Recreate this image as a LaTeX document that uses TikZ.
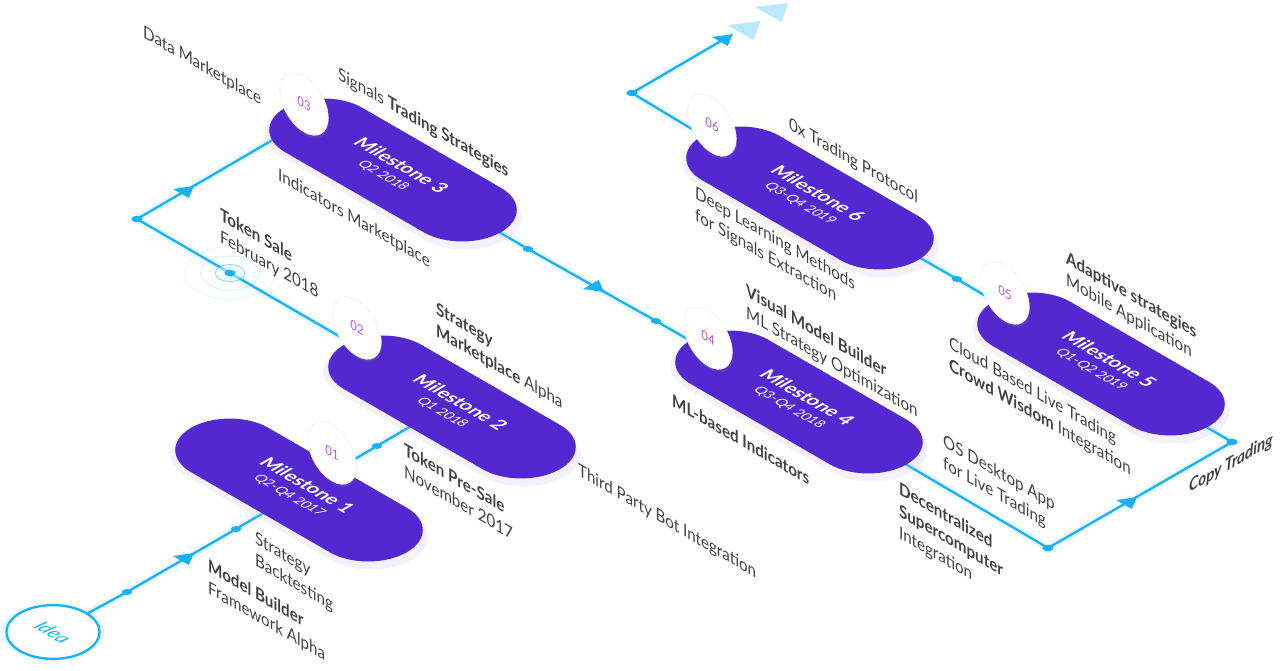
\documentclass[tikz,border=0pt]{standalone}
\usepackage{fontspec}
\setmainfont{Lato}
\usetikzlibrary{shapes.misc,shadows,backgrounds}

\definecolor{flowc}{RGB}{22,178,244}
\definecolor{pillc}{RGB}{84,40,208}
\definecolor{pillshade}{RGB}{190,178,238}
\definecolor{textc}{RGB}{66,66,70}
\definecolor{numc}{RGB}{186,82,214}
\definecolor{fadec}{RGB}{186,232,252}

\tikzset{
  floor/.style={x={(0.866pt,-0.5pt)},y={(0.866pt,0.5pt)}},
  onfloor/.style={cm={0.866,-0.5,0.866,0.5,(0,0)}},
  onwall/.style={cm={0.866,-0.5,0,1,(0,0)}},
  pill/.style={onfloor, rounded rectangle, fill=pillc, text=white, minimum width=249pt, minimum height=89pt,
    align=center, inner sep=0pt, font=\fontsize{13.5}{18}\selectfont,
    general shadow={fill=pillshade, opacity=0.18, shadow scale=1.04, shadow yshift=-5pt}},
  badge/.style={onwall, circle, fill=white, draw=black!7, line width=0.6pt, minimum size=56pt, inner sep=0pt, text=numc,
    font=\fontsize{13}{13}\selectfont, drop shadow={fill=black!40, opacity=0.12, shadow xshift=1pt, shadow yshift=-3pt}},
  lbl/.style={onwall, anchor=north west, align=left, inner sep=0pt, text=textc, font=\fontsize{17.5}{22}\selectfont},
  flow/.style={draw=flowc, line width=2.3pt, line join=round, preaction={draw=flowc, line width=7pt, opacity=0.1}},
  flowdot/.style={fill=flowc},
  headU/.pic={\fill (-9,-7) -- (0,8) -- (9,-7) -- cycle;},
  headV/.pic={\fill (-7,-9) -- (8,0) -- (-7,9) -- cycle;},
  bigU/.pic={\fill (-15,-11) -- (0,12) -- (15,-11) -- cycle;},
}

\begin{document}
\begin{tikzpicture}[x=1pt,y=-1pt]
    \useasboundingbox (0,0) rectangle (1280,670);

    % points on the path
    \coordinate (d1) at (127,592);
    \coordinate (a1) at (187,557);
    \coordinate (d2) at (236,529);
    \coordinate (d3) at (377,446);
    \coordinate (e2a) at (430,415);
    \coordinate (e2b) at (382,361);
    \coordinate (d4) at (230,273);
    \coordinate (c1) at (137,219);
    \coordinate (a2) at (187,190);
    \coordinate (e3a) at (300,124);
    \coordinate (e3b) at (463,211);
    \coordinate (d5) at (528,249);
    \coordinate (a3) at (597,288);
    \coordinate (d6) at (656,321);
    \coordinate (e4a) at (729,363);
    \coordinate (e4b) at (868,442);
    \coordinate (c2) at (1048,548);
    \coordinate (a4) at (1130,501);
    \coordinate (c3) at (1232,442);
    \coordinate (e5a) at (1170,406);
    \coordinate (e5b) at (1031,323);
    \coordinate (d7) at (957,279);
    \coordinate (e6a) at (880,235);
    \coordinate (e6b) at (740,158);
    \coordinate (c4) at (632,93);
    \coordinate (top) at (726,38);
    \coordinate (f1) at (750,27);
    \coordinate (f2) at (778,9);

    % Milestones
    \node[pill] (m1) at (299,490) {{\fontsize{19}{19}\selectfont\bfseries Milestone 1}\\Q2-Q4 2017};
    \node[pill] (m2) at (452,407) {{\fontsize{19}{19}\selectfont\bfseries Milestone 2}\\Q1 2018};
    \node[pill] (m3) at (393,170) {{\fontsize{19}{19}\selectfont\bfseries Milestone 3}\\Q2 2018};
    \node[pill] (m4) at (799,402) {{\fontsize{19}{19}\selectfont\bfseries Milestone 4}\\Q3-Q4 2018};
    \node[pill] (m5) at (1101,364) {{\fontsize{19}{19}\selectfont\bfseries Milestone 5}\\Q1-Q2 2019};
    \node[pill] (m6) at (810,198) {{\fontsize{19}{19}\selectfont\bfseries Milestone 6}\\Q3-Q4 2019};

    % Start
    \node[onfloor, circle, draw=flowc, line width=2.3pt, fill=white, minimum size=76pt, text=flowc,
      font=\fontsize{19}{19}\selectfont\itshape, general shadow={fill=flowc, opacity=0.1, shadow scale=1.1}] (idea) at (53,632) {Idea};

    % Numbers
    \node[badge] (b1) at (332,453) {01};
    \node[badge] (b2) at (357,328) {02};
    \node[badge] (b3) at (304,104) {03};
    \node[badge] (b4) at (708,338) {04};
    \node[badge] (b5) at (1005,293) {05};
    \node[badge] (b6) at (712,125) {06};

    % Labels
    \node[lbl] (l1) at (143,24) {Data Marketplace};
    \node[lbl] (l2) at (338,66) {Signals \textbf{Trading Strategies}};
    \node[lbl] (l3) at (278,167) {Indicators Marketplace};
    \node[lbl] (l4) at (220,207) {\textbf{Token Sale}\\February 2018};
    \node[lbl] (l5) at (436,301) {\textbf{Strategy}\\\textbf{Marketplace} Alpha};
    \node[lbl] (l6) at (404,442) {\textbf{Token Pre-Sale}\\November 2017};
    \node[lbl] (l7) at (578,462) {Third Party Bot Integration};
    \node[lbl] (l8) at (255,531) {Strategy\\Backtesting};
    \node[lbl] (l9) at (208,558) {\textbf{Model Builder}\\Framework Alpha};
    \node[lbl] (l10) at (789,116) {0x Trading Protocol};
    \node[lbl] (l11) at (695,185) {Deep Learning Methods\\for Signals Extraction};
    \node[lbl] (l12) at (746,283) {\textbf{Visual Model Builder}\\ML Strategy Optimization};
    \node[lbl] (l13) at (672,393) {\textbf{ML-based Indicators}};
    \node[lbl] (l14) at (1066,250) {\textbf{Adaptive strategies}\\Mobile Application};
    \node[lbl] (l15) at (949,335) {Cloud Based Live Trading\\\textbf{Crowd Wisdom} Integration};
    \node[lbl] (l16) at (943,433) {OS Desktop App\\for Live Trading};
    \node[lbl] (l17) at (899,481) {\textbf{Decentralized}\\\textbf{Supercomputer}\\Integration};
    \node[cm={0.866,0.5,0,1,(0,0)}, anchor=base west, inner sep=0pt, text=textc,
      font=\fontsize{17.5}{22}\selectfont\bfseries\itshape] (l18) at (1189,493) {Copy Trading};

    \begin{pgfonlayer}{background}
        % Path
        \draw[flow] (idea.center) -- (d1) -- (d2) -- (d3) -- (e2a);
        \draw[flow] (e2b) -- (d4) -- (c1) -- (e3a);
        \draw[flow] (e3b) -- (d5) -- (d6) -- (e4a);
        \draw[flow] (e4b) -- (c2) -- (c3) -- (e5a);
        \draw[flow] (e5b) -- (d7) -- (e6a);
        \draw[flow] (e6b) -- (c4) -- (top);

        % Token sale rings
        \draw[floor, flowc, line width=0.8pt, opacity=0.12] (d4) circle (37);
        \draw[floor, flowc, line width=0.8pt, opacity=0.2] (d4) circle (24);
        \draw[floor, flowc, line width=0.8pt, fill=flowc!12, opacity=0.5] (d4) circle (12);

        % Dots
        \fill[floor, flowdot] (d1) circle (4.2);
        \fill[floor, flowdot] (d2) circle (4.2);
        \fill[floor, flowdot] (d3) circle (4.2);
        \fill[floor, flowdot] (d4) circle (4.6);
        \fill[floor, flowdot] (d5) circle (4.2);
        \fill[floor, flowdot] (d6) circle (4.2);
        \fill[floor, flowdot] (d7) circle (4.2);
        \fill[floor, flowdot] (c1) circle (4.6);
        \fill[floor, flowdot] (c2) circle (4.6);
        \fill[floor, flowdot] (c3) circle (4.6);
        \fill[floor, flowdot] (c4) circle (4.6);

        % Arrows
        \pic[floor, fill=flowc] at (a1) {headU};
        \pic[floor, fill=flowc] at (a2) {headU};
        \pic[floor, fill=flowc] at (a3) {headV};
        \pic[floor, fill=flowc] at (a4) {headU};
        \pic[floor, fill=flowc] at (top) {headU};
        \pic[floor, fill=fadec] at (f1) {bigU};
        \pic[floor, fill=fadec] at (f2) {bigU};
    \end{pgfonlayer}
\end{tikzpicture}
\end{document}
